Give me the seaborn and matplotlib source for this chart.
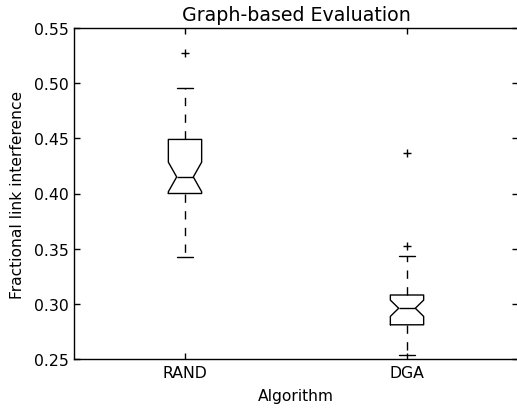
import matplotlib
matplotlib.use("Agg")
import matplotlib.pyplot as plt
import seaborn as sns
import pandas as pd

categories = ["RAND", "DGA"]
rand_values = [0.342, 0.355, 0.368, 0.377, 0.385, 0.390, 0.395, 0.398, 0.400,
               0.402, 0.404, 0.406, 0.408, 0.410, 0.412, 0.414, 0.415, 0.417,
               0.420, 0.424, 0.428, 0.433, 0.438, 0.444, 0.449, 0.454, 0.460,
               0.466, 0.473, 0.481, 0.489, 0.496, 0.527]
dga_values = [0.254, 0.260, 0.265, 0.270, 0.273, 0.276, 0.278, 0.280, 0.281,
              0.283, 0.285, 0.287, 0.289, 0.291, 0.293, 0.295, 0.296, 0.297,
              0.299, 0.300, 0.302, 0.303, 0.305, 0.307, 0.308, 0.312, 0.318,
              0.324, 0.331, 0.337, 0.343, 0.352, 0.437]
y_ticks = [0.25, 0.30, 0.35, 0.40, 0.45, 0.50, 0.55]

df = pd.DataFrame({
    "Algorithm": [categories[0]] * len(rand_values) + [categories[1]] * len(dga_values),
    "value": rand_values + dga_values,
})

sns.set_style("ticks")
plt.rcParams["font.family"] = ["DejaVu Sans"]
plt.rcParams["text.color"] = "black"
plt.rcParams["axes.labelcolor"] = "black"

fig = plt.figure(figsize=(5.17, 4.14), dpi=100)
ax = fig.add_axes([74 / 517, 1 - 360 / 414, (518 - 74) / 517, (360 - 29) / 414])

sns.boxplot(data=df, x="Algorithm", y="value", order=categories, ax=ax,
            notch=True, fill=False, width=0.15, color="black",
            linecolor="black", linewidth=1.0, whis=1.5,
            boxprops={"color": "black"},
            whiskerprops={"linestyle": "--", "color": "black", "dashes": (6, 6)},
            capprops={"color": "black"},
            medianprops={"color": "black"},
            flierprops={"marker": "+", "markersize": 6, "markeredgecolor": "black",
                        "markeredgewidth": 1.0})

ax.set_ylim(0.25, 0.55)
ax.set_xlim(-0.5, 1.5)
ax.set_yticks(y_ticks)
ax.set_yticklabels([f"{v:.2f}" for v in y_ticks])
for s in ax.spines.values():
    s.set_visible(True)
    s.set_color("black")
    s.set_linewidth(1.0)
ax.tick_params(direction="in", length=4, width=1, top=True, right=True,
               labelsize=11.3, colors="black", labelcolor="black", pad=4)
ax.set_xlabel("Algorithm", fontsize=11.2, labelpad=6, color="black")
ax.set_ylabel("Fractional link interference", fontsize=11.2, labelpad=6, color="black")
ax.set_title("Graph-based Evaluation", fontsize=13.7, pad=6, color="black")

fig.savefig("out.png", dpi=100)
